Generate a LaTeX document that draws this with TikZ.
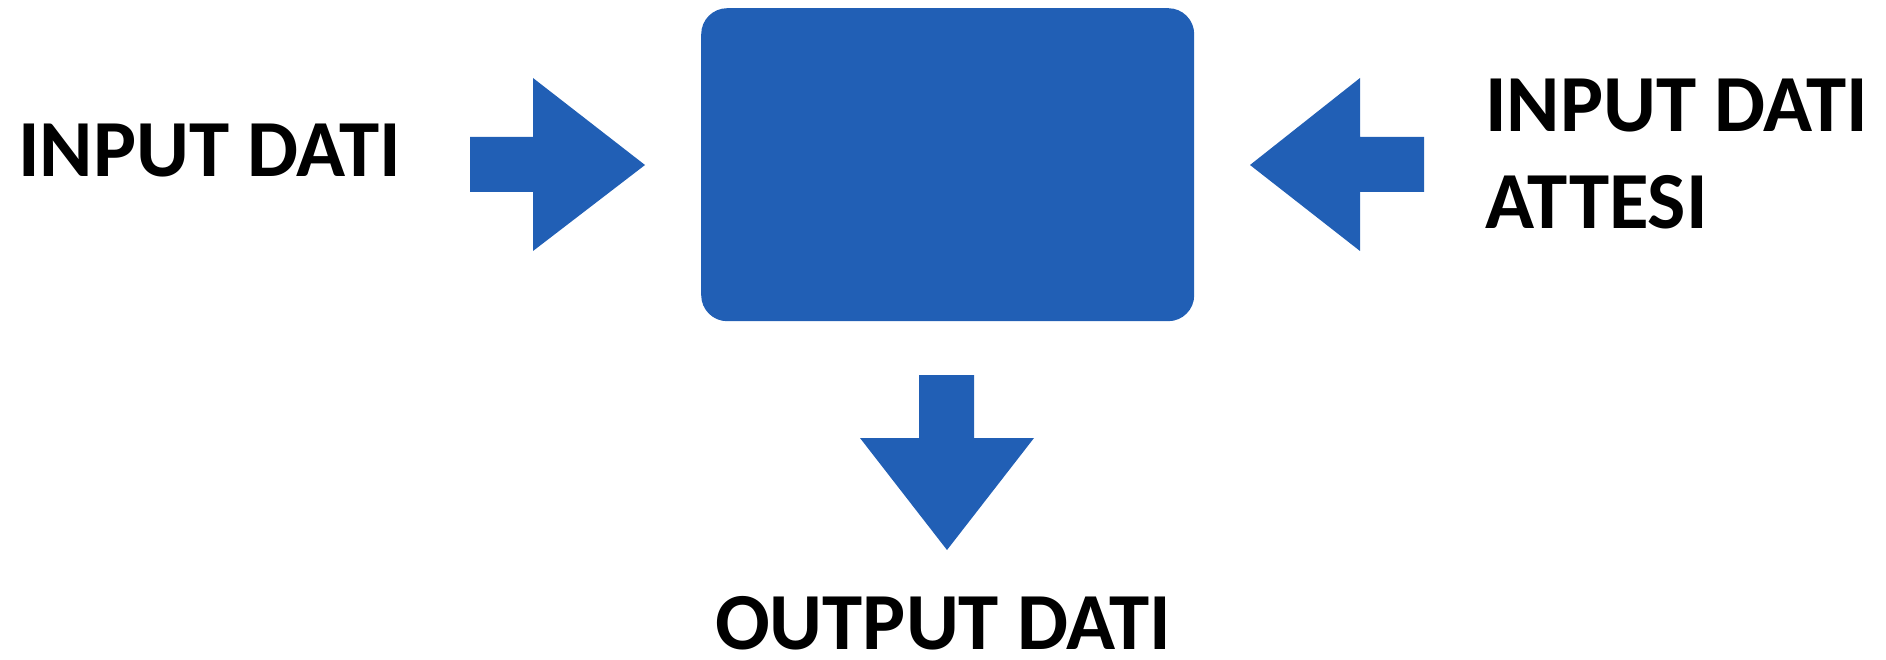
\documentclass[tikz,border=0pt]{standalone}
\usepackage{fontspec}
\setmainfont{Carlito}
\definecolor{boxblue}{HTML}{215FB5}
\begin{document}
\begin{tikzpicture}[x=1pt,y=-1pt,
  blockarrow/.style={fill=boxblue,draw=none},
  label/.style={inner sep=0pt,font=\fontsize{81}{97}\selectfont\bfseries},
  multilabel/.style={label,align=left}]
\useasboundingbox (0,0) rectangle (1886,660);
\node[fill=boxblue,rounded corners=26pt,minimum width=493pt,minimum height=313pt,inner sep=0pt,anchor=north west] (proc) at (701,8) {};
% left arrow
\fill[blockarrow] (470,137) -- (533,137) -- (533,78) -- (645,165) -- (533,251) -- (533,192) -- (470,192) -- cycle;
% right arrow
\fill[blockarrow] (1424,137) -- (1360,137) -- (1360,78) -- (1250,165) -- (1360,251) -- (1360,192) -- (1424,192) -- cycle;
% down arrow
\fill[blockarrow] (919,375) -- (974,375) -- (974,438) -- (1034,438) -- (947,550) -- (860,438) -- (919,438) -- cycle;
\node[label,anchor=base west] (inl) at (18,177) {INPUT DATI};
\node[multilabel,anchor=base west] (inr) at (1485,229) {INPUT DATI\\ATTESI};
\node[label,text depth=0pt,anchor=base west] (out) at (715,649) {OUTPUT DATI};
\end{tikzpicture}
\end{document}
